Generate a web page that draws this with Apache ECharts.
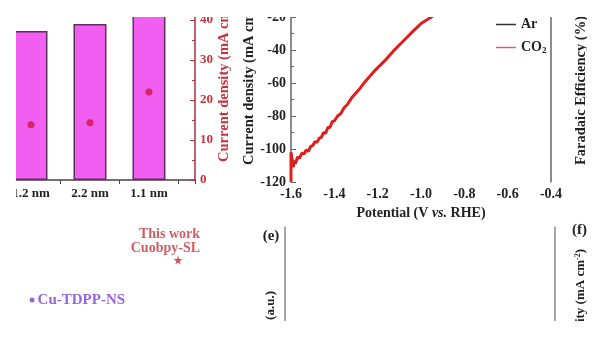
<!DOCTYPE html>
<html>
<head>
<meta charset="utf-8">
<script src="https://cdn.jsdelivr.net/npm/echarts@6/dist/echarts.min.js"></script>
<style>
  html, body { margin: 0; padding: 0; background: #ffffff; }
  #chart { width: 600px; height: 338px; }
</style>
</head>
<body>
<div id="chart"></div>
<script>
// ---- (c) particle size: Faradaic efficiency bars + current density dots ----
const sizeLabels = ['1.2 nm', '2.2 nm', '1.1 nm'];
const sizePositions = [1, 2, 3];
const sizeFE = [74.5, 78, 90];            // %, left axis
const sizeCurrent = [13.8, 14.3, 22];     // mA cm-2, right axis
const sizeCurrentTicks = [0, 10, 20, 30, 40, 50];

// ---- (d) LSV curves ----
const potentialTicks = [-1.6, -1.4, -1.2, -1.0, -0.8, -0.6, -0.4];
const lsvCurrentTicks = [-120, -100, -80, -60, -40, -20, 0];
const arPotential = [-0.4, -0.6, -0.8, -1.0, -1.2, -1.4, -1.6];
const arCurrent = [-0.2, -0.5, -1.2, -2.5, -5, -9, -15];
const co2Potential = [-0.40, -0.50, -0.60, -0.70, -0.80, -0.86, -0.90, -0.95, -1.00, -1.04,
  -1.07, -1.10, -1.13, -1.16, -1.19, -1.21, -1.24, -1.26, -1.28, -1.30,
  -1.32, -1.34, -1.355, -1.37, -1.385, -1.40, -1.41, -1.42, -1.43, -1.44,
  -1.45, -1.46, -1.47, -1.48, -1.49, -1.50, -1.51, -1.52, -1.53, -1.54,
  -1.55, -1.56, -1.57, -1.58, -1.585, -1.59, -1.595, -1.60, -1.60];
const co2Current = [-0.5, -1, -2, -4, -8, -11.5, -14.5, -19.8, -24, -29,
  -33, -37, -41, -45.5, -49.5, -52, -56.5, -59.5, -63, -66,
  -69, -73, -75, -78.5, -80, -83, -83.5, -87, -87, -90.5,
  -90, -93, -93.5, -96, -95.5, -98, -98.5, -101.5, -100.5, -103,
  -102.5, -105.5, -105, -109, -107, -111, -106, -102, -120];

// ---- comparison with reported catalysts ----
const compareNames = ['This work\nCuobpy-SL', 'Cu-TDPP-NS'];
const compareX = [87.5, 11.5];
const compareY = [83.5, 63.5];

const SERIF = '"Liberation Serif", "Times New Roman", serif';
const RED = '#c8323c';
const FRAME = '#666666';

const pair = (xs, ys) => xs.map((x, i) => [x, ys[i]]);

const chart = echarts.init(document.getElementById('chart'), null, { renderer: 'canvas' });

const boldText = (size, color) => ({ fontFamily: SERIF, fontWeight: 'bold', fontSize: size, color: color });

const option = {
  animation: false,
  backgroundColor: '#ffffff',
  grid: [
    { left: 1.5, right: 405, top: -20, bottom: 158, outerBoundsMode: 'none', containLabel: false },   // size comparison
    { left: 291, right: 49, top: -16, bottom: 156, outerBoundsMode: 'none', containLabel: false },   // LSV
    { left: 10, right: 398, top: 227, height: 200, outerBoundsMode: 'none', containLabel: false },   // comparison map
    { left: 285, right: 45, top: 227, height: 200, outerBoundsMode: 'none', containLabel: false }    // (e)
  ],
  legend: {
    data: ['Ar', 'CO2'],
    orient: 'vertical',
    left: 491,
    top: 11,
    icon: 'rect',
    itemWidth: 20,
    itemHeight: 1.5,
    itemGap: 6,
    textStyle: Object.assign(boldText(14, '#222'), {
      lineHeight: 17,
      rich: { s: { fontFamily: SERIF, fontWeight: 'bold', fontSize: 9, color: '#222', padding: [7, 0, 0, 0] } }
    }),
    formatter: name => (name === 'CO2' ? 'CO{s|2}' : name)
  },
  xAxis: [
    { // size axis line and ticks
      gridIndex: 0, type: 'value', position: 'bottom',
      min: 0.5, max: 3.78, interval: 1,
      axisLine: { lineStyle: { color: '#4a3f4a', width: 1.5 } },
      axisTick: { show: true, inside: false, length: 4, lineStyle: { color: '#4a3f4a' } },
      axisLabel: { show: false }, splitLine: { show: false }
    },
    { // size category names
      gridIndex: 0, type: 'value', position: 'bottom',
      min: 0.5, max: 3.78, interval: 0.5,
      axisLine: { show: false }, axisTick: { show: false }, splitLine: { show: false },
      axisLabel: Object.assign(boldText(13, '#222'), {
        margin: 7,
        showMinLabel: true, showMaxLabel: true,
        formatter: v => {
          const k = Math.round(v);
          return Math.abs(v - k) < 1e-6 && sizePositions.indexOf(k) >= 0 ? sizeLabels[sizePositions.indexOf(k)] : '';
        }
      })
    },
    { // potential
      gridIndex: 1, type: 'value', position: 'bottom',
      min: potentialTicks[0], max: potentialTicks[potentialTicks.length - 1], interval: 0.2,
      axisLine: { lineStyle: { color: FRAME, width: 1.5 } },
      axisTick: { inside: true, length: 5, lineStyle: { color: FRAME } },
      minorTick: { show: true, splitNumber: 2, length: 3, lineStyle: { color: FRAME } },
      splitLine: { show: false },
      axisLabel: Object.assign(boldText(14, '#222'), { margin: 5, formatter: v => v.toFixed(1) }),
      name: '{n|Potential (V }{i|vs.}{n| RHE)}',
      nameLocation: 'middle',
      nameGap: 20,
      nameTextStyle: {
        rich: {
          n: boldText(14, '#222'),
          i: Object.assign(boldText(14, '#222'), { fontStyle: 'italic' })
        }
      }
    },
    { // comparison map top frame
      gridIndex: 2, type: 'value', position: 'top', min: 0, max: 100,
      axisLine: { lineStyle: { color: FRAME, width: 1.5 } },
      axisTick: { show: false }, axisLabel: { show: false }, splitLine: { show: false }
    },
    { // (e) top frame
      gridIndex: 3, type: 'value', position: 'top', min: 0, max: 1,
      axisLine: { lineStyle: { color: '#888', width: 1.5 } },
      axisTick: { show: false }, axisLabel: { show: false }, splitLine: { show: false }
    }
  ],
  yAxis: [
    { // FE (hidden)
      gridIndex: 0, type: 'value', position: 'left', min: 0, max: 100, show: false
    },
    { // current density for size comparison
      gridIndex: 0, type: 'value', position: 'right',
      min: sizeCurrentTicks[0], max: sizeCurrentTicks[sizeCurrentTicks.length - 1], interval: 10,
      axisLine: { show: true, lineStyle: { color: '#a8323a', width: 1.5 } },
      axisTick: { show: true, inside: true, length: 5, lineStyle: { color: '#a8323a' } },
      minorTick: { show: true, splitNumber: 2, length: 3, lineStyle: { color: '#a8323a' } },
      splitLine: { show: false },
      axisLabel: Object.assign(boldText(13, RED), { margin: 5 }),
      name: '{n|Current density (mA cm}{s|-2}{n|)}',
      nameLocation: 'middle',
      nameGap: 21,
      nameTextStyle: {
        rich: {
          n: boldText(14.5, RED),
          s: Object.assign(boldText(9, RED), { padding: [0, 0, 6, 0] })
        }
      }
    },
    { // LSV current density
      gridIndex: 1, type: 'value', position: 'left',
      min: lsvCurrentTicks[0], max: lsvCurrentTicks[lsvCurrentTicks.length - 1], interval: 20,
      axisLine: { show: true, lineStyle: { color: FRAME, width: 1.5 } },
      axisTick: { show: true, inside: true, length: 5, lineStyle: { color: FRAME } },
      minorTick: { show: true, splitNumber: 2, length: 3, lineStyle: { color: FRAME } },
      splitLine: { show: false },
      axisLabel: Object.assign(boldText(14, '#222'), { margin: 5 }),
      name: '{n|Current density (mA cm}{s|-2}{n|)}',
      nameLocation: 'middle',
      nameGap: 30,
      nameTextStyle: {
        rich: {
          n: boldText(14.5, '#222'),
          s: Object.assign(boldText(9, '#222'), { padding: [0, 0, 6, 0] })
        }
      }
    },
    { // LSV right frame
      gridIndex: 1, type: 'value', position: 'right', min: -120, max: 0,
      axisLine: { show: true, lineStyle: { color: FRAME, width: 1.5 } },
      axisTick: { show: false }, axisLabel: { show: false }, splitLine: { show: false }
    },
    { // comparison map right frame
      gridIndex: 2, type: 'value', position: 'right', min: 0, max: 100,
      axisLine: { show: true, lineStyle: { color: FRAME, width: 1.5 } },
      axisTick: { show: false }, axisLabel: { show: false }, splitLine: { show: false }
    },
    { // (e) left frame
      gridIndex: 3, type: 'value', position: 'left', min: 0, max: 1,
      axisLine: { show: true, lineStyle: { color: '#888', width: 1.5 } },
      axisTick: { show: false }, axisLabel: { show: false }, splitLine: { show: false }
    },
    { // (e) right frame
      gridIndex: 3, type: 'value', position: 'right', min: 0, max: 1,
      axisLine: { show: true, lineStyle: { color: '#888', width: 1.5 } },
      axisTick: { show: false }, axisLabel: { show: false }, splitLine: { show: false }
    }
  ],
  series: [
    {
      type: 'bar', xAxisIndex: 0, yAxisIndex: 0,
      data: pair(sizePositions, sizeFE),
      barWidth: 33,
      itemStyle: { color: '#f25ef0', borderColor: '#5b3060', borderWidth: 1.5 }
    },
    {
      type: 'scatter', xAxisIndex: 0, yAxisIndex: 1,
      data: pair(sizePositions, sizeCurrent),
      symbol: 'circle', symbolSize: 7,
      itemStyle: { color: '#cc1845' }
    },
    {
      name: 'Ar', type: 'line', xAxisIndex: 2, yAxisIndex: 2,
      data: pair(arPotential, arCurrent),
      symbol: 'none',
      lineStyle: { color: '#333333', width: 1.5 },
      itemStyle: { color: '#333333' }
    },
    {
      name: 'CO2', type: 'line', xAxisIndex: 2, yAxisIndex: 2,
      data: pair(co2Potential, co2Current),
      symbol: 'none',
      lineStyle: { color: '#e01e1e', width: 3 },
      itemStyle: { color: '#e06060' }
    },
    {
      type: 'scatter', xAxisIndex: 3, yAxisIndex: 4,
      data: [
        {
          value: [compareX[0], compareY[0]],
          symbol: 'path://M50,0 L61,35 L98,35 L68,57 L79,91 L50,70 L21,91 L32,57 L2,35 L39,35 Z',
          symbolSize: 9,
          itemStyle: { color: '#d0203a' },
          label: {
            show: true, formatter: compareNames[0],
            position: [26.5, 0], align: 'right', verticalAlign: 'bottom',
            fontFamily: SERIF, fontWeight: 'bold', fontSize: 14, lineHeight: 14, color: RED
          }
        },
        {
          value: [compareX[1], compareY[1]],
          symbol: 'circle',
          symbolSize: 5,
          itemStyle: { color: '#7a3cd2' },
          label: {
            show: true, formatter: compareNames[1],
            position: 'right', distance: 3,
            fontFamily: SERIF, fontWeight: 'bold', fontSize: 15, color: '#7a3cd2'
          }
        }
      ]
    }
  ],
  graphic: [
    {
      type: 'text', x: 581, y: 165, rotation: Math.PI / 2, z: 10,
      style: { text: 'Faradaic Efficiency (%)', align: 'left', verticalAlign: 'middle',
        font: 'bold 14.5px ' + SERIF, fill: '#222' }
    },
    {
      type: 'text', x: 271, y: 236, z: 10,
      style: { text: '(e)', align: 'center', verticalAlign: 'middle', font: 'bold 15px ' + SERIF, fill: '#222' }
    },
    {
      type: 'text', x: 271, y: 291, rotation: Math.PI / 2, z: 10,
      style: { text: 'Intensity (a.u.)', align: 'right', verticalAlign: 'middle',
        font: 'bold 13px ' + SERIF, fill: '#222' }
    },
    {
      type: 'text', x: 572, y: 230, z: 10,
      style: { text: '(f)', align: 'left', verticalAlign: 'middle', font: 'bold 15px ' + SERIF, fill: '#222' }
    },
    {
      type: 'text', x: 581, y: 249, rotation: Math.PI / 2, z: 10,
      style: {
        text: '{n|Current density (mA cm}{s|-2}{n|)}', align: 'right', verticalAlign: 'middle',
        rich: {
          n: { font: 'bold 13px ' + SERIF, fill: '#222' },
          s: { font: 'bold 8px ' + SERIF, fill: '#222', padding: [0, 0, 6, 0] }
        }
      }
    },
    // page margins around the figure block
    { type: 'rect', z: 100, shape: { x: 0, y: 0, width: 600, height: 17 }, style: { fill: '#ffffff' } },
    { type: 'rect', z: 100, shape: { x: 0, y: 321, width: 600, height: 17 }, style: { fill: '#ffffff' } },
    { type: 'rect', z: 100, shape: { x: 0, y: 0, width: 16, height: 338 }, style: { fill: '#ffffff' } },
    { type: 'rect', z: 100, shape: { x: 587, y: 0, width: 13, height: 338 }, style: { fill: '#ffffff' } }
  ]
};

chart.setOption(option);
</script>
</body>
</html>
